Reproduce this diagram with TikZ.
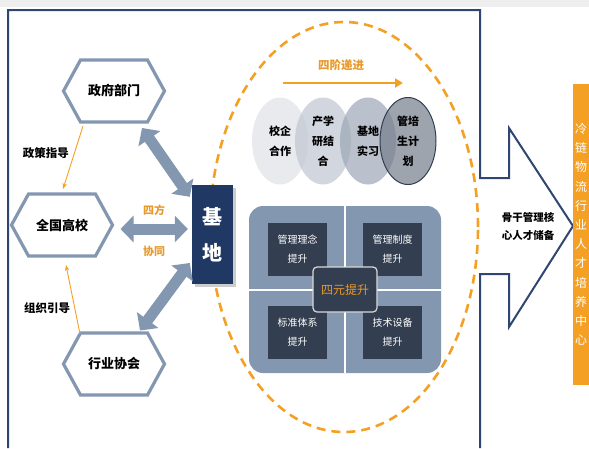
\documentclass[tikz,border=0pt]{standalone}
\usepackage{fontspec}
\setmainfont{Noto Sans CJK SC}
\usetikzlibrary{arrows.meta,shapes.geometric}
\definecolor{hexc}{HTML}{8497B0}
\definecolor{arrc}{HTML}{8497B0}
\definecolor{framec}{HTML}{2E4670}
\definecolor{basec}{HTML}{1F3864}
\definecolor{orng}{HTML}{F4A024}
\definecolor{orng2}{HTML}{E89A2C}
\definecolor{qpanel}{HTML}{8497B0}
\definecolor{qdark}{HTML}{333F50}
\definecolor{cone}{HTML}{DEE1E7}
\definecolor{ctwo}{HTML}{BFC5D0}
\definecolor{cthree}{HTML}{9CA6B6}
\definecolor{cfour}{HTML}{757D8B}
\definecolor{topstrip}{HTML}{EEEEEE}
\newcommand{\hexof}[1]{\draw[hexline] (#1.west) -- ([xshift=17pt]#1.north west) -- ([xshift=-17pt]#1.north east) -- (#1.east) -- ([xshift=-17pt]#1.south east) -- ([xshift=17pt]#1.south west) -- cycle;}
\begin{document}
\begin{tikzpicture}[x=1pt,y=-1pt,
  hexn/.style={minimum width=101pt,minimum height=62pt,inner sep=0pt,outer sep=0pt,font=\bfseries\fontsize{13}{15}\selectfont},
  hexline/.style={draw=hexc,line width=3.2pt,line join=miter},
  bigarrow/.style={draw=arrc,line width=11pt,{Triangle[length=13pt,width=26pt]}-{Triangle[length=13pt,width=26pt]}},
  thinarrow/.style={draw=orng,line width=0.9pt,-{Stealth[length=6pt,width=4.5pt]}},
  lbl/.style={font=\bfseries\fontsize{11.5}{13}\selectfont},
  orlbl/.style={text=orng2,font=\bfseries\fontsize{11}{13}\selectfont},
  stage/.style={ellipse,minimum width=56pt,minimum height=87pt,inner sep=0pt,text opacity=1,fill opacity=0.7,align=center,font=\bfseries\fontsize{11}{20}\selectfont},
  qbox/.style={fill=qdark,minimum width=59pt,minimum height=53pt,inner sep=0pt,text=white,align=center,font=\fontsize{10}{19}\selectfont},
  basebox/.style={fill=basec,minimum width=41pt,minimum height=99pt,inner sep=0pt,text=white,align=center,font=\bfseries\fontsize{20}{36}\selectfont},
  dashc/.style={draw=orng,line width=2.6pt,dash pattern=on 9pt off 6pt},
]
\useasboundingbox (0,0) rectangle (589,448);
\fill[topstrip] (0,0) rectangle (589,7);
% frame with arrow
\draw[framec,line width=2pt,line join=miter] (8,448) -- (8,10) -- (480,10) -- (480,178) -- (509,178) -- (509,128) -- (573,226) -- (509,327) -- (509,274) -- (480,274) -- (480,448);
% orange center bar
\node[fill=orng,minimum width=16pt,minimum height=301pt,inner sep=0pt,text=white,align=center,font=\fontsize{12}{19.2}\selectfont] (hub) at (581,234.5) {冷\\链\\物\\流\\行\\业\\人\\才\\培\\养\\中\\心};
\node[font=\bfseries\fontsize{10.5}{18}\selectfont,align=center] (reserve) at (528,226) {骨干管理核\\心人才储备};
% dashed ellipse
\draw[dashc] (344,227) ellipse [x radius=134pt, y radius=205pt];
% hexagons
\node[hexn] (gov) at (114,91) {政府部门};
\node[hexn] (uni) at (62,225) {全国高校};
\node[hexn] (hya) at (114,364) {行业协会};
\hexof{gov}
\hexof{uni}
\hexof{hya}
% base box
\fill[black!40,opacity=0.5] (195,188) rectangle (236,287);
\node[basebox] (base) at (212.5,234.5) {基\\地};
% big arrows
\draw[bigarrow] ([xshift=28pt,yshift=-6pt]gov.south) -- ([xshift=-2pt,yshift=-12pt]base.north west);
\draw[bigarrow] ([xshift=8pt,yshift=-4pt]uni.east) -- ([xshift=-4pt,yshift=5.5pt]base.west);
\draw[bigarrow] ([xshift=-2pt,yshift=-28.5pt]base.west) -- ([xshift=26pt,yshift=2.5pt]hya.north);
% thin arrows
\draw[thinarrow] ([xshift=-31pt,yshift=-4pt]gov.south) -- ([xshift=1pt,yshift=5pt]uni.north);
\draw[thinarrow] ([xshift=-34pt,yshift=-1pt]hya.north) -- ([xshift=4pt,yshift=-9pt]uni.south);
\node[lbl] (l1) at (46,153) {政策指导};
\node[lbl] (l2) at (47,308) {组织引导};
\node[orlbl] (sf) at (154,210) {四方};
\node[orlbl] (xt) at (154,251) {协同};
% four stages
\node[orlbl,font=\bfseries\fontsize{11.5}{13}\selectfont] (fourstep) at (341,65) {四阶递进};
\coordinate (sa) at (283,83);
\coordinate (sb) at (403,83);
\draw[orng,line width=2.5pt,-{Triangle[length=8pt,width=9pt]}] (sa) -- (sb);
\node[stage,fill=cone] (c1) at (280,141) {校企\\合作};
\node[stage,fill=ctwo] (c2) at (323,141) {产学\\研结\\合};
\node[stage,fill=cthree] (c3) at (368,141) {基地\\实习};
\node[stage,fill=cfour,draw=qdark,line width=1pt,draw opacity=1] (c4) at (408,141) {管培\\生计\\划};
% four elements panel
\fill[qpanel,rounded corners=14pt] (249,206) rectangle (441,373);
\draw[white,line width=1.5pt] (345,206) -- (345,373);
\draw[white,line width=1.5pt] (249,290) -- (441,290);
\node[qbox] (q1) at (297.5,249.5) {管理理念\\提升};
\node[qbox] (q2) at (392.5,249.5) {管理制度\\提升};
\node[qbox] (q3) at (297.5,332.5) {标准体系\\提升};
\node[qbox] (q4) at (392.5,332.5) {技术设备\\提升};
\node[fill=qdark,draw=black!15,line width=1.2pt,rounded corners=4pt,minimum width=64pt,minimum height=45pt,inner sep=0pt,text=orng2,font=\fontsize{12}{14}\selectfont] (fourel) at (345,289.5) {四元提升};
\end{tikzpicture}
\end{document}
